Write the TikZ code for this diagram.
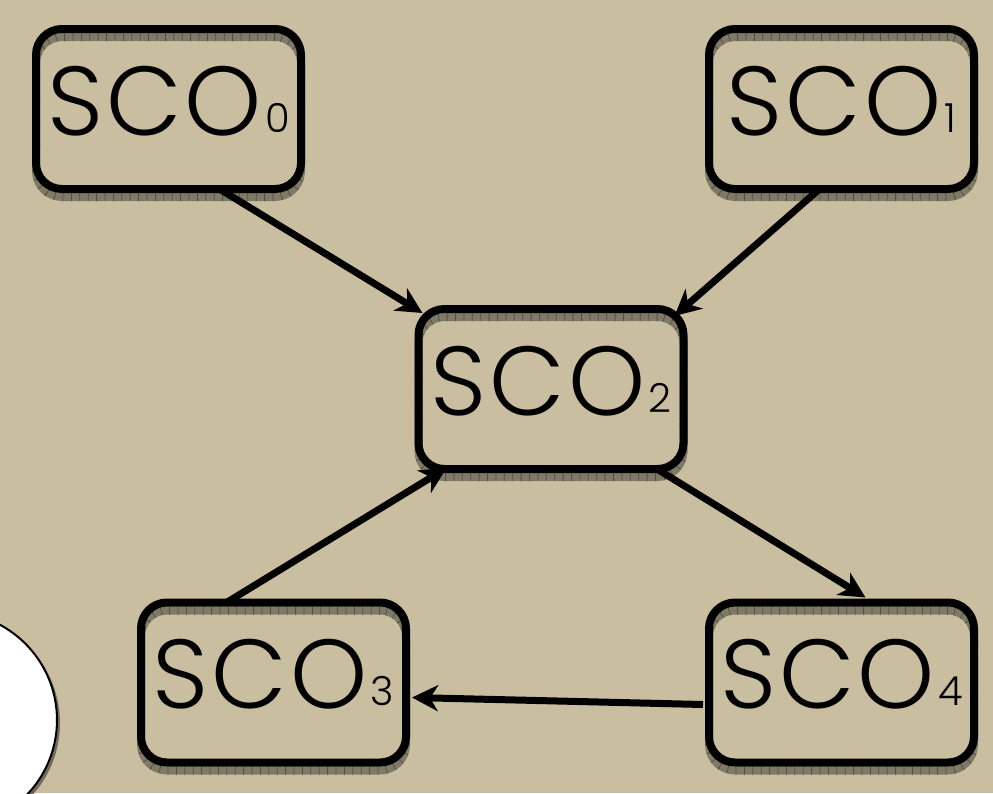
\documentclass[tikz,border=0pt]{standalone}
\usepackage{fontspec}
\setmainfont{Poppins}[UprightFont=*-Light]
\usetikzlibrary{arrows.meta,calc}

\definecolor{parchment}{HTML}{C9BE9F}
\definecolor{shadowgray}{HTML}{7F7968}
\definecolor{tickgray}{HTML}{55503F}
\definecolor{discshadow}{HTML}{6F6A5C}

% box label: spaced "SCO" with a small digit sitting on the baseline
\newcommand{\scolabel}[1]{\raisebox{-26pt}[0pt][0pt]{S\kern3pt C\kern3pt O\kern3pt{\fontsize{40}{40}\selectfont\raisebox{3pt}{#1}}}}

\begin{document}
\begin{tikzpicture}[x=1pt,y=-1pt,
  scobox/.style={draw=black, line width=8pt, rounded corners=26pt,
    minimum width=265pt, minimum height=160pt, inner sep=0pt,
    font=\fontsize{98}{98}\selectfont,
    preaction={draw=shadowgray, line width=8pt, transform canvas={yshift=-8pt}},
    preaction={draw=tickgray, line width=8pt, dash pattern=on 0.8pt off 7.6pt,
      transform canvas={yshift=-8pt}}},
  link/.style={draw=black, line width=7pt,
    -{Stealth[length=26pt,width=26pt,inset=8pt]}}]

  % page and parchment background
  \fill[parchment] (0,0) rectangle (993,793);
  \useasboundingbox (0,0) rectangle (993,793);
  \clip (0,0) rectangle (993,793);

  % white disc cut by the left edge
  \fill[discshadow] (-48,723) circle (108pt);
  \draw[line width=2pt, fill=white] (-51,720) circle (108pt);

  % boxes
  \node[scobox] (s0) at (168.5,109)   {\scolabel{0}};
  \node[scobox] (s1) at (841.5,109)   {\scolabel{1}};
  \node[scobox] (s2) at (551,389)     {\scolabel{2}};
  \node[scobox] (s3) at (273.5,682.5) {\scolabel{3}};
  \node[scobox] (s4) at (841.5,682.5) {\scolabel{4}};

  % connectors
  \draw[link] ($(s0.south)+(51,-4)$)  -- ($(s2.north west)+(8,8)$);
  \draw[link] ($(s1.south)+(-22,-4)$) -- ($(s2.north east)+(-13,11)$);
  \draw[link] ($(s3.north)+(-47,4)$)  -- ($(s2.south west)+(32,-5)$);
  \draw[link] ($(s2.south)+(106,-4)$) -- ($(s4.north)+(24,-1)$);
  \draw[link] ($(s4.west)+(-2,22)$)   -- ($(s3.east)+(2,15)$);
\end{tikzpicture}
\end{document}
